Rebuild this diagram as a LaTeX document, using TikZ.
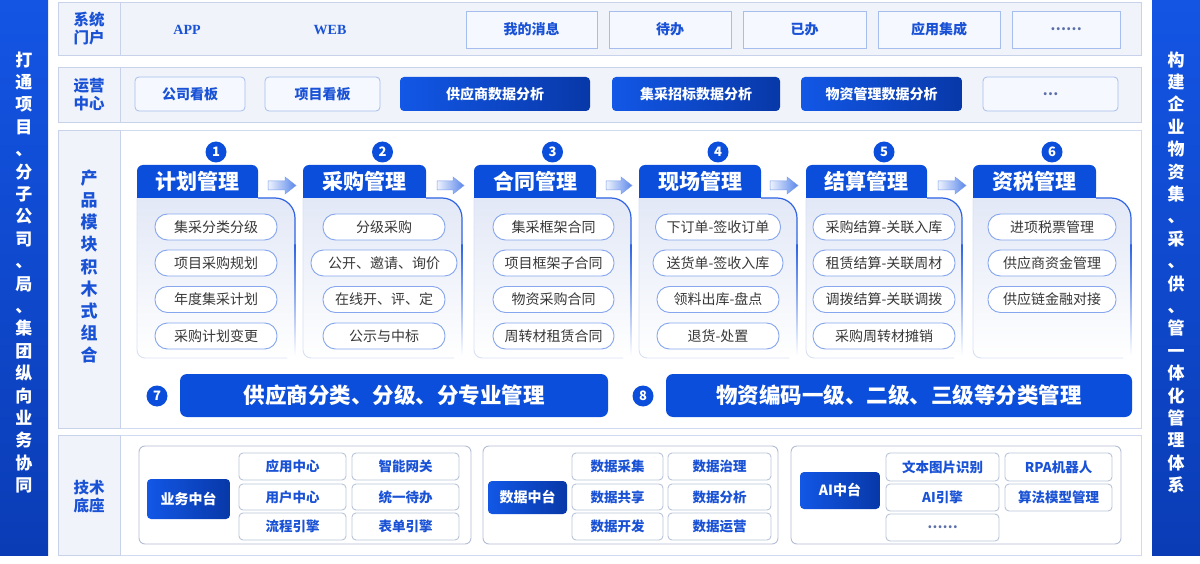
\documentclass[tikz,border=0pt]{standalone}
\usepackage{fontspec}
\setmainfont{Noto Sans CJK SC}
\newfontfamily\serifb{Liberation Serif}
\usetikzlibrary{calc}
\definecolor{rowfill}{HTML}{F0F3FA}
\definecolor{rowline}{HTML}{C8D2EA}
\definecolor{mainline}{HTML}{D0DAF1}
\definecolor{boxfill}{HTML}{F5F8FE}
\definecolor{boxline}{HTML}{A6BEEE}
\definecolor{dblue}{HTML}{0B4EDC}
\definecolor{dblueA}{HTML}{1257E6}
\definecolor{dblueB}{HTML}{0838A8}
\definecolor{lblue}{HTML}{1A52D6}
\definecolor{pillline}{HTML}{86A6EE}
\definecolor{txtgray}{HTML}{383838}
\definecolor{grpline}{HTML}{B3BDD5}
\definecolor{techline}{HTML}{BAC4DA}
\definecolor{bodytop}{HTML}{E2E8F6}
\definecolor{bodyedge}{HTML}{D8E0F2}
\definecolor{edgeblue}{HTML}{2D63E4}
\definecolor{barT}{HTML}{1455E4}
\definecolor{barB}{HTML}{0A3CB5}
\definecolor{arrL}{HTML}{EEF3FE}
\definecolor{arrR}{HTML}{5A86EA}
\definecolor{arrline}{HTML}{7C9EEC}
\definecolor{dotgray}{HTML}{5A6FA8}

\tikzset{
 rowbox/.style={draw=rowline, fill=rowfill, line width=0.8pt, inner sep=0pt},
 mainbox/.style={draw=mainline, fill=white, line width=0.8pt, inner sep=0pt},
 labtxt/.style={text=lblue, font=\bfseries\fontsize{15.5}{18}\selectfont, align=center, inner sep=0pt},
 portxt/.style={text=lblue, font=\serifb\bfseries\fontsize{14}{16}\selectfont, inner sep=0pt},
 portal/.style={draw=boxline, fill=boxfill, line width=0.8pt, inner sep=0pt, text=lblue, font=\bfseries\fontsize{14}{16}\selectfont},
 opbox/.style={portal, rounded corners=4pt},
 darkbox/.style={rounded corners=4pt, inner sep=0pt, text=white, font=\bfseries\fontsize{14}{16}\selectfont, left color=dblueA, right color=dblueB},
 tabbox/.style={fill=dblue, rounded corners=6pt, inner sep=0pt, text=white, font=\bfseries\fontsize{21}{24}\selectfont},
 numc/.style={circle, fill=dblue, minimum size=21pt, inner sep=0pt, text=white, font=\bfseries\fontsize{13}{14}\selectfont},
 pill/.style={draw=pillline, fill=white, rounded corners=12.5pt, line width=0.9pt, minimum height=26pt, inner sep=0pt, text=txtgray, font=\fontsize{14}{16}\selectfont},
 bar/.style={fill=dblue, rounded corners=7pt, inner sep=0pt, text=white, font=\bfseries\fontsize{21.5}{24}\selectfont},
 grp/.style={draw=grpline, fill=white, rounded corners=6pt, line width=0.9pt, inner sep=0pt},
 tech/.style={draw=techline, fill=white, rounded corners=4pt, line width=0.9pt, inner sep=0pt, text=lblue, font=\bfseries\fontsize{13.5}{15}\selectfont},
 vtext/.style={text=white, font=\bfseries\fontsize{17}{22.4}\selectfont, align=center, inner sep=0pt},
 sidebar/.style={top color=barT, bottom color=barB, inner sep=0pt},
}

% box from corners: #1 style, #2 x1, #3 y1, #4 x2, #5 y2, #6 name, #7 text
\newcommand\bx[7]{\node[#1, minimum width={#4-#2}, minimum height={#5-#3}] (#6) at ({(#2+#4)/2},{(#3+#5)/2}) {#7};}

% module: #1 id, #2 tab left, #3 tab right, #4 body right, #5 title
\newcommand\modul[5]{%
 \shade[top color=bodytop, bottom color=white] (#2,198) -- (#4-20,198) .. controls (#4-9,198) and (#4,207) .. (#4,218) -- (#4,350) .. controls (#4,354.4) and (#4-3.6,358) .. (#4-8,358) -- (#2+8,358) .. controls (#2+3.6,358) and (#2,354.4) .. (#2,350) -- cycle;
 \draw[bodyedge, line width=0.9pt] (#2,198) -- (#2,350) .. controls (#2,354.4) and (#2+3.6,358) .. (#2+8,358) -- (#4-8,358);
 \draw[edgeblue, line width=1.2pt] (#3,198) -- (#4-20,198) .. controls (#4-9,198) and (#4,207) .. (#4,218) -- (#4,245);
 \shade[top color=edgeblue, bottom color=white] (#4-0.6,245) rectangle (#4+0.6,356);
 \fill[dblue] (#2,185) rectangle (#3,198);
 \bx{tabbox}{#2}{165}{#3}{198}{t#1}{#5}
 \node[numc] (n#1) at ({(#2+#4)/2},152) {#1};
}
% arrow between tabs
\newcommand\tarrow[2]{%
 \shadedraw[left color=arrL, right color=arrR, draw=arrline, line width=0.5pt] (#1,181) -- (#2-11,181) -- (#2-11,177) -- (#2,185.5) -- (#2-11,194) -- (#2-11,190) -- (#1,190) -- cycle;
}
\newcommand\pl[4]{\node[pill, minimum width=#3pt] (#1) at #2 {#4};}

\begin{document}
\begin{tikzpicture}[x=1pt,y=-1pt]
\useasboundingbox[fill=white] (0,0) rectangle (1200,564);

% side bars
\bx{sidebar}{0}{0}{48}{555}{lbar}{}
\node[vtext] (ltxt) at (24,272.5) {打\\通\\项\\目\\、\\分\\子\\公\\司\\、\\局\\、\\集\\团\\纵\\向\\业\\务\\协\\同};
\bx{sidebar}{1152}{0}{1200}{555}{rbar}{}
\node[vtext] (rtxt) at (1176,272.5) {构\\建\\企\\业\\物\\资\\集\\、\\采\\、\\供\\、\\管\\一\\体\\化\\管\\理\\体\\系};

% row 1
\bx{rowbox}{58}{2}{1141}{55}{r1}{}
\bx{rowbox}{58}{2}{120}{55}{r1l}{}
\node[labtxt] (r1t) at (89,29) {系统\\门户};
\node[portxt] (app) at (187,30) {APP};
\node[portxt] (web) at (330,30) {WEB};
\bx{portal}{466}{11}{597}{48}{msg}{我的消息}
\bx{portal}{609}{11}{731}{48}{todo}{待办}
\bx{portal}{743}{11}{866}{48}{done}{已办}
\bx{portal}{878}{11}{1000}{48}{integ}{应用集成}
\bx{portal,text=dotgray}{1012}{11}{1120}{48}{more1}{……}

% row 2
\bx{rowbox}{58}{67}{1141}{122}{r2}{}
\bx{rowbox}{58}{67}{120}{122}{r2l}{}
\node[labtxt] (r2t) at (89,95) {运营\\中心};
\bx{opbox}{135}{77}{245}{111}{gs}{公司看板}
\bx{opbox}{265}{77}{380}{111}{xm}{项目看板}
\bx{darkbox}{400}{77}{590}{111}{gys}{供应商数据分析}
\bx{darkbox}{612}{77}{780}{111}{jc}{集采招标数据分析}
\bx{darkbox}{801}{77}{962}{111}{wz}{物资管理数据分析}
\bx{opbox,text=dotgray}{983}{77}{1118}{111}{more2}{…}

% row 3
\bx{mainbox}{58}{130}{1141}{428}{r3}{}
\bx{rowbox}{58}{130}{120}{428}{r3l}{}
\node[labtxt, font=\bfseries\fontsize{17}{22.1}\selectfont] (r3t) at (89,266.5) {产\\品\\模\\块\\积\\木\\式\\组\\合};

\modul{1}{137}{258}{295}{计划管理}
\modul{2}{303}{426}{462}{采购管理}
\modul{3}{474}{596}{631}{合同管理}
\modul{4}{639}{761}{797}{现场管理}
\modul{5}{806}{927}{962}{结算管理}
\modul{6}{973}{1096}{1131}{资税管理}

\tarrow{268}{296}
\tarrow{437}{464}
\tarrow{606}{632}
\tarrow{770}{798}
\tarrow{938}{966}

\pl{p11}{(216,227)}{122}{集采分类分级}
\pl{p12}{(216,263)}{122}{项目采购规划}
\pl{p13}{(216,299.5)}{122}{年度集采计划}
\pl{p14}{(216,336)}{122}{采购计划变更}

\pl{p21}{(384,227)}{122}{分级采购}
\pl{p22}{(384,263)}{146}{公开、邀请、询价}
\pl{p23}{(384,299.5)}{122}{在线开、评、定}
\pl{p24}{(384,336)}{122}{公示与中标}

\pl{p31}{(553.5,227)}{121}{集采框架合同}
\pl{p32}{(553.5,263)}{121}{项目框架子合同}
\pl{p33}{(553.5,299.5)}{121}{物资采购合同}
\pl{p34}{(553.5,336)}{121}{周转材租赁合同}

\pl{p41}{(718,227)}{125}{下订单-签收订单}
\pl{p42}{(718,263)}{130}{送货单-签收入库}
\pl{p43}{(718,299.5)}{122}{领料出库-盘点}
\pl{p44}{(718,336)}{122}{退货-处置}

\pl{p51}{(884,227)}{142}{采购结算-关联入库}
\pl{p52}{(884,263)}{142}{租赁结算-关联周材}
\pl{p53}{(884,299.5)}{142}{调拨结算-关联调拨}
\pl{p54}{(884,336)}{142}{采购周转材摊销}

\pl{p61}{(1052,227)}{128}{进项税票管理}
\pl{p62}{(1052,263)}{128}{供应商资金管理}
\pl{p63}{(1052,299.5)}{128}{供应链金融对接}

\node[numc] (n7) at (157,396) {7};
\bx{bar}{180}{374}{608}{417}{b7}{供应商分类、分级、分专业管理}
\node[numc] (n8) at (643,396) {8};
\bx{bar}{666}{374}{1132}{417}{b8}{物资编码一级、二级、三级等分类管理}

% row 4
\bx{mainbox}{58}{435}{1141}{555}{r4}{}
\bx{rowbox}{58}{435}{120}{555}{r4l}{}
\node[labtxt] (r4t) at (89,497) {技术\\底座};

\bx{grp}{139}{446}{471}{544}{g1}{}
\bx{darkbox}{147}{479}{230}{519}{g1h}{业务中台}
\bx{tech}{239}{453}{346}{480}{g1a}{应用中心}
\bx{tech}{352}{453}{459}{480}{g1b}{智能网关}
\bx{tech}{239}{484}{346}{510}{g1c}{用户中心}
\bx{tech}{352}{484}{459}{510}{g1d}{统一待办}
\bx{tech}{239}{513}{346}{540}{g1e}{流程引擎}
\bx{tech}{352}{513}{459}{540}{g1f}{表单引擎}

\bx{grp}{483}{446}{778}{544}{g2}{}
\bx{darkbox}{488}{481}{567}{514}{g2h}{数据中台}
\bx{tech}{572}{453}{663}{480}{g2a}{数据采集}
\bx{tech}{668}{453}{771}{480}{g2b}{数据治理}
\bx{tech}{572}{484}{663}{510}{g2c}{数据共享}
\bx{tech}{668}{484}{771}{510}{g2d}{数据分析}
\bx{tech}{572}{513}{663}{540}{g2e}{数据开发}
\bx{tech}{668}{513}{771}{540}{g2f}{数据运营}

\bx{grp}{791}{446}{1121}{544}{g3}{}
\bx{darkbox}{800}{472}{880}{509}{g3h}{AI中台}
\bx{tech}{886}{453}{999}{481}{g3a}{文本图片识别}
\bx{tech}{1005}{453}{1112}{481}{g3b}{RPA机器人}
\bx{tech}{886}{484}{999}{511}{g3c}{AI引擎}
\bx{tech}{1005}{484}{1112}{511}{g3d}{算法模型管理}
\bx{tech,text=dotgray}{886}{514}{999}{541}{g3e}{……}
\end{tikzpicture}
\end{document}
